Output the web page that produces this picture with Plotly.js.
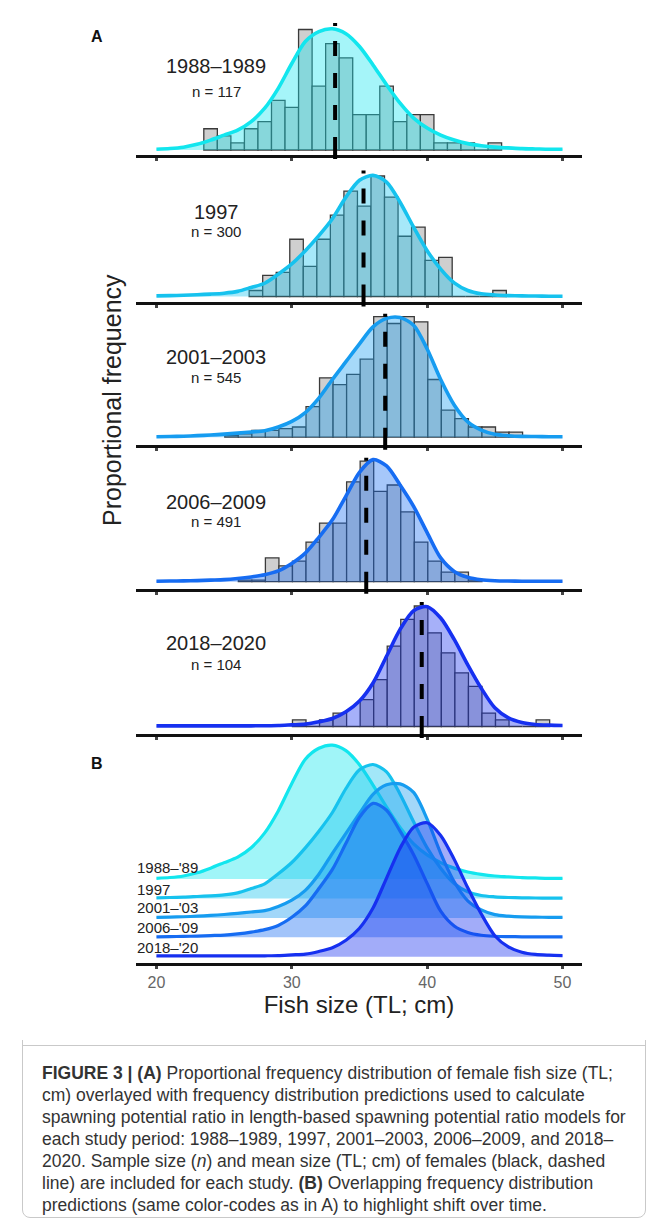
<!DOCTYPE html>
<html><head><meta charset="utf-8">
<script src="https://cdn.plot.ly/plotly-3.0.1.min.js"></script>
<style>
html,body{margin:0;padding:0;background:#fff;}
body{width:663px;height:1230px;position:relative;overflow:hidden;font-family:"Liberation Sans",Arial,sans-serif;}
#frame{position:absolute;left:22px;top:-10px;width:624px;height:1228px;border:1px solid #c9c9c9;border-radius:8px;box-sizing:border-box;}
#sep{position:absolute;left:22px;top:1045px;width:624px;height:0;border-top:1px solid #c9c9c9;}
#chart{position:absolute;left:0;top:0;width:663px;height:1040px;}
#caption{position:absolute;left:42px;top:1062px;font-size:17.5px;line-height:22px;color:#333;white-space:nowrap;}
</style></head>
<body>
<div id="frame"></div>
<div id="chart"></div>
<div id="sep"></div>
<div id="caption"><b>FIGURE 3 | (A)</b> Proportional frequency distribution of female fish size (TL;<br>cm) overlayed with frequency distribution predictions used to calculate<br>spawning potential ratio in length-based spawning potential ratio models for<br>each study period: 1988–1989, 1997, 2001–2003, 2006–2009, and 2018–<br>2020. Sample size (<i>n</i>) and mean size (TL; cm) of females (black, dashed<br>line) are included for each study. <b>(B)</b> Overlapping frequency distribution<br>predictions (same color-codes as in A) to highlight shift over time.</div>
<script>
// ---------------- DATA ----------------
const periods = ["1988–1989", "1997", "2001–2003", "2006–2009", "2018–2020"];
const periodsShort = ["1988–'89", "1997", "2001–'03", "2006–'09", "2018–'20"];
const sampleSizes = [117, 300, 545, 491, 104];
const meanSizes = [33.2, 35.3, 36.9, 35.5, 39.6];
const sizeTicks = [20, 30, 40, 50];

// histogram bins (bin centres, TL cm) and female counts per bin
const bins1988 = [24, 25, 26, 27, 28, 29, 30, 31, 32, 33, 34, 35, 36, 37, 38, 39, 40, 41, 42, 43, 44, 45];
const counts1988 = [3, 2, 1, 3, 4, 7, 6, 17, 9, 15, 13, 5, 5, 9, 4, 5, 5, 1, 1, 1, 0, 1];
const bins1997 = [27.35, 28.35, 29.35, 30.35, 31.35, 32.35, 33.35, 34.35, 35.35, 36.35, 37.35, 38.35, 39.35, 40.35, 41.35, 42.35, 43.35, 44.35, 45.35];
const counts1997 = [2, 7, 8, 19, 10, 19, 27, 35, 30, 40, 33, 20, 23, 12, 13, 0, 0, 0, 2];
const bins2001 = [25.55, 26.55, 27.55, 28.55, 29.55, 30.55, 31.55, 32.55, 33.55, 34.55, 35.55, 36.55, 37.55, 38.55, 39.55, 40.55, 41.55, 42.55, 43.55, 44.55, 45.55, 46.55];
const counts2001 = [1, 2, 4, 4, 5, 6, 18, 35, 31, 37, 46, 71, 67, 71, 68, 34, 16, 11, 6, 6, 3, 3];
const bins2006 = [26.55, 27.55, 28.55, 29.55, 30.55, 31.55, 32.55, 33.55, 34.55, 35.55, 36.55, 37.55, 38.55, 39.55, 40.55, 41.55, 42.55, 43.55];
const counts2006 = [1, 1, 15, 10, 13, 25, 37, 37, 63, 76, 57, 61, 44, 25, 13, 6, 6, 1];
const bins2018 = [30.55, 31.55, 32.55, 33.55, 34.55, 35.55, 36.55, 37.55, 38.55, 39.55, 40.55, 41.55, 42.55, 43.55, 44.55, 45.55, 46.55, 47.55, 48.55];
const counts2018 = [1, 0, 1, 2, 0, 4, 7, 12, 16, 18, 14, 11, 8, 6, 2, 1, 0, 0, 1];

// predicted frequency distributions (same count units as the histograms), read at 1-cm steps
const curveX = [20, 21, 22, 23, 24, 25, 26, 27, 28, 29, 30, 31, 32, 33, 34, 35, 36, 37, 38, 39, 40, 41, 42, 43, 44, 45, 46, 47, 48, 49, 50];
const curve1988 = [0.1, 0.2, 0.4, 0.8, 1.4, 2.1, 2.8, 4.0, 5.9, 8.7, 12.2, 15.3, 16.7, 17.1, 16.4, 14.6, 12.0, 9.2, 6.6, 4.5, 3.1, 2.1, 1.4, 0.9, 0.6, 0.4, 0.3, 0.2, 0.15, 0.1, 0.1];
const curve1997 = [0.2, 0.3, 0.4, 0.6, 0.8, 1.1, 1.7, 3.0, 4.4, 7.4, 10.8, 15.2, 20.2, 25.8, 33.0, 38.6, 40.2, 38.0, 31.3, 23.0, 15.2, 9.1, 4.5, 2.0, 0.9, 0.5, 0.3, 0.2, 0.15, 0.1, 0.1];
const curve2001 = [0.3, 0.4, 0.6, 0.9, 1.3, 1.8, 2.4, 3.1, 3.8, 6.0, 9.3, 14.5, 23, 34, 44.5, 55, 65, 70, 70.5, 66, 52, 34, 19, 9, 4.2, 1.7, 0.9, 0.5, 0.4, 0.3, 0.3];
const curve2006 = [0.3, 0.4, 0.5, 0.7, 1.0, 1.3, 2.0, 3.0, 4.4, 6.8, 11.5, 18, 28, 39, 54, 69, 77, 73, 61, 47.5, 31, 15, 6.5, 2.8, 1.2, 0.6, 0.4, 0.3, 0.3, 0.3, 0.3];
const curve2018 = [0.1, 0.1, 0.1, 0.1, 0.1, 0.1, 0.1, 0.1, 0.12, 0.15, 0.25, 0.35, 0.7, 1.2, 2.2, 3.8, 6.5, 10.5, 14.5, 17.3, 17.9, 16.2, 13.0, 9.2, 5.7, 2.8, 1.3, 0.6, 0.3, 0.2, 0.15];

const allBins = [bins1988, bins1997, bins2001, bins2006, bins2018];
const allCounts = [counts1988, counts1997, counts2001, counts2006, counts2018];
const allCurves = [curve1988, curve1997, curve2001, curve2006, curve2018];

// ---------------- STYLE / LAYOUT ----------------
const lineColors = ['#12e6ee', '#16c2ee', '#169cf0', '#166cf2', '#1630f0'];
const fillRGB = [[18,230,238],[22,194,238],[22,156,240],[22,108,242],[22,48,240]];
const H = 1040;
const py = p => 1 - p / H;
const xDom = [136 / 663, 582 / 663];
const xRange = [18.49, 51.44];
const axisY = [156, 303.5, 446.7, 590.7, 735];
const gapPx = [6, 7, 9.5, 9, 8.5];
const peakPx = 120.5;
const labelTitleY = [66, 211.7, 357.3, 501.7, 643.3];
const labelNY = [91, 232, 377.3, 521, 664];
const FONT = '"Liberation Sans", Arial, sans-serif';

const traces = [];
const layout = {
  width: 663, height: H,
  margin: {l: 0, r: 0, t: 0, b: 0},
  paper_bgcolor: '#fff', plot_bgcolor: 'rgba(0,0,0,0)',
  showlegend: false, bargap: 0,
  font: {family: FONT, color: '#222'},
  annotations: [], shapes: []
};

function xAxisStyle(anchor, showLabels) {
  return {
    domain: xDom, range: xRange, anchor: anchor,
    showline: true, linewidth: 3, linecolor: '#111',
    ticks: 'outside', ticklen: 3, tickwidth: 3, tickcolor: '#444',
    tickvals: sizeTicks, showticklabels: showLabels,
    tickfont: {size: 16, color: '#666', family: FONT},
    showgrid: false, zeroline: false, fixedrange: true
  };
}

for (let i = 0; i < 5; i++) {
  const s = i === 0 ? '' : String(i + 1);
  const n = sampleSizes[i];
  const props = allCounts[i].map(c => c / n);
  const curveProps = allCurves[i].map(c => c / n);
  traces.push({
    type: 'bar', x: allBins[i], y: props, width: 1,
    xaxis: 'x' + s, yaxis: 'y' + s,
    marker: {color: '#cfcfcf', line: {color: '#3a3a3a', width: 1.3}},
    hoverinfo: 'skip'
  });
  const rgb = fillRGB[i];
  traces.push({
    type: 'scatter', mode: 'lines', x: curveX, y: curveProps,
    xaxis: 'x' + s, yaxis: 'y' + s,
    line: {color: lineColors[i], width: 3.6, shape: 'spline', smoothing: 0.8},
    fill: 'tozeroy', fillcolor: `rgba(${rgb[0]},${rgb[1]},${rgb[2]},0.38)`,
    hoverinfo: 'skip'
  });
  const maxBar = Math.max(...props);
  const sPx = peakPx / maxBar;
  const dBot = axisY[i] - 1.5, dTop = axisY[i] - 138;
  const g = gapPx[i] - 1.5;
  layout['xaxis' + s] = xAxisStyle('y' + s, false);
  layout['yaxis' + s] = {
    domain: [py(dBot), py(dTop)], anchor: 'x' + s,
    range: [-g / sPx, (dBot - dTop - g) / sPx],
    visible: false, fixedrange: true
  };
  layout.shapes.push({
    type: 'line', xref: 'x' + s, yref: 'paper',
    x0: meanSizes[i], x1: meanSizes[i], y0: py(axisY[i] + 3), y1: py(axisY[i] - 133),
    line: {color: '#000', width: 4, dash: '22px,17px,15px,17px,15px,17px,15px,15px,3px,60px'}
  });
  layout.annotations.push({
    xref: 'paper', yref: 'paper', x: 216 / 663, y: py(labelTitleY[i]),
    text: periods[i], showarrow: false, xanchor: 'center', yanchor: 'middle',
    font: {size: 20, color: '#222', family: FONT}
  });
  layout.annotations.push({
    xref: 'paper', yref: 'paper', x: 216 / 663, y: py(labelNY[i]),
    text: 'n = ' + n, showarrow: false, xanchor: 'center', yanchor: 'middle',
    font: {size: 15, color: '#222', family: FONT}
  });
}

// ---------- Panel B: ridgeline of predicted distributions ----------
const ridgeHeight = 134, ridgeBase = 5.8, ridgeStep = 19.4;
for (let i = 0; i < 5; i++) {
  const base = ridgeBase + ridgeStep * (4 - i);
  const cmax = Math.max(...allCurves[i]);
  const rgb = fillRGB[i];
  traces.push({
    type: 'scatter', mode: 'lines', x: [curveX[0], curveX[curveX.length - 1]], y: [base, base],
    xaxis: 'x6', yaxis: 'y6', line: {width: 0, color: 'rgba(0,0,0,0)'}, hoverinfo: 'skip'
  });
  traces.push({
    type: 'scatter', mode: 'lines', x: curveX,
    y: allCurves[i].map(v => base + ridgeHeight * v / cmax),
    xaxis: 'x6', yaxis: 'y6',
    line: {color: lineColors[i], width: 3.2, shape: 'spline', smoothing: 0.8},
    fill: 'tonexty', fillcolor: `rgba(${rgb[0]},${rgb[1]},${rgb[2]},0.4)`,
    hoverinfo: 'skip'
  });
}
const ridgeLabelY = [867.3, 889.3, 907.7, 927.7, 947.7];
for (let i = 0; i < 5; i++) {
  layout.annotations.push({
    xref: 'paper', yref: 'paper', x: 135 / 663, y: py(ridgeLabelY[i]),
    text: periodsShort[i], showarrow: false, xanchor: 'left', yanchor: 'middle',
    font: {size: 15, color: '#222', family: FONT}
  });
}
layout.xaxis6 = xAxisStyle('y6', true);
layout.xaxis6.title = {text: 'Fish size (TL; cm)', font: {size: 24, color: '#222', family: FONT}, standoff: 4};
layout.yaxis6 = {domain: [py(962.5), py(740)], anchor: 'x6', range: [0, 222.5], visible: false, fixedrange: true};

// panel letters and shared y title
layout.annotations.push({xref: 'paper', yref: 'paper', x: 97 / 663, y: py(37), text: '<b>A</b>', showarrow: false,
  xanchor: 'center', yanchor: 'middle', font: {size: 16, color: '#111', family: FONT}});
layout.annotations.push({xref: 'paper', yref: 'paper', x: 97 / 663, y: py(763), text: '<b>B</b>', showarrow: false,
  xanchor: 'center', yanchor: 'middle', font: {size: 16, color: '#111', family: FONT}});
layout.annotations.push({xref: 'paper', yref: 'paper', x: 112 / 663, y: py(400), text: 'Proportional frequency',
  textangle: -90, showarrow: false, xanchor: 'center', yanchor: 'middle', font: {size: 25, color: '#222', family: FONT}});

Plotly.newPlot('chart', traces, layout, {displayModeBar: false, staticPlot: true});
</script>
</body></html>
